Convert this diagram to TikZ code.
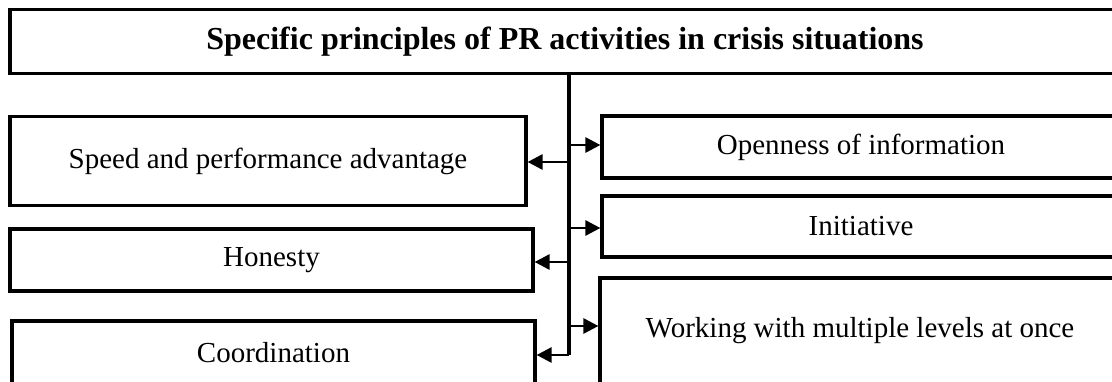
\documentclass[tikz,border=0pt]{standalone}
\usepackage{fontspec}
\setmainfont{Liberation Serif}
\usetikzlibrary{arrows.meta}
\tikzset{
  box/.style={draw=black, line width=3.2pt, rectangle, inner sep=0pt,
    font=\fontsize{29}{34}\selectfont},
  titlebox/.style={box, font=\fontsize{32}{38}\selectfont\bfseries},
  trunk/.style={line width=3.2pt},
  arr/.style={line width=2.8pt, -{Triangle[length=15pt,width=15pt]}},
}
\begin{document}
\begin{tikzpicture}[x=1pt,y=-1pt]
\useasboundingbox (0,0) rectangle (1112,381);
\clip (0,0) rectangle (1112,381);
\fill[white] (0,0) rectangle (1112,381);
% boxes
\node[titlebox, minimum width=1110pt, minimum height=64pt] (top) at (565,41.5)
  {Specific principles of PR activities in crisis situations};
\node[box, minimum width=516pt, minimum height=89pt] (b1) at (268,161)
  {\raisebox{-2pt}{Speed and performance advantage}};
\node[box, minimum width=523pt, minimum height=62pt] (b2) at (271.5,260)
  {\raisebox{-1pt}{Honesty}};
\node[box, minimum width=523pt, minimum height=64pt] (b3) at (273.5,353)
  {Coordination};
\node[box, minimum width=518pt, minimum height=62pt] (r1) at (861,147)
  {Openness of information};
\node[box, minimum width=518pt, minimum height=61pt] (r2) at (861,226.5)
  {Initiative};
\node[box, minimum width=520pt, minimum height=106pt] (r3) at (860,331)
  {Working with multiple levels at once};
% trunk junctions
\coordinate (tx) at (569,0);
\coordinate (jr1) at (569,145);
\coordinate (jl1) at (569,162);
\coordinate (jr2) at (569,228);
\coordinate (jl2) at (569,262);
\coordinate (jr3) at (569,326);
\coordinate (jl3) at (569,355);
\draw[trunk] (top.south -| tx) -- (jl3);
% arrows
\draw[arr] (jl1) -- (b1.east |- jl1);
\draw[arr] (jl2) -- (b2.east |- jl2);
\draw[arr] (jl3) -- (b3.east |- jl3);
\draw[arr] (jr1) -- (r1.west |- jr1);
\draw[arr] (jr2) -- (r2.west |- jr2);
\draw[arr] (jr3) -- (r3.west |- jr3);
\end{tikzpicture}
\end{document}
